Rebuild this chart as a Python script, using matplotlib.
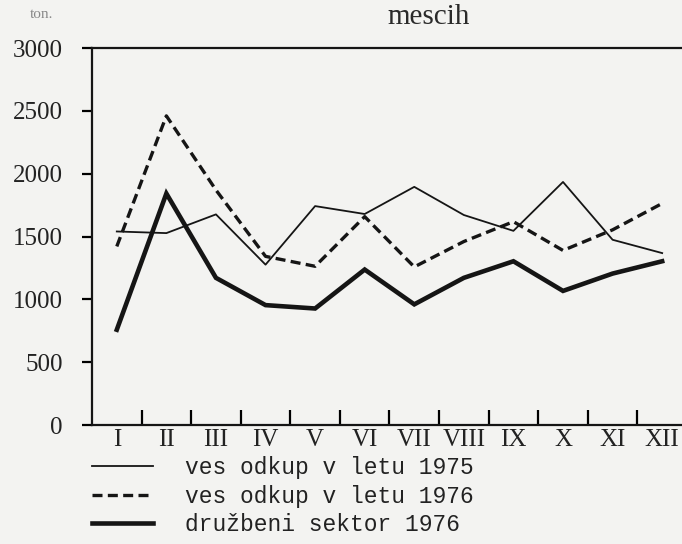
import matplotlib
matplotlib.use("Agg")
import matplotlib.pyplot as plt

months = ["I", "II", "III", "IV", "V", "VI", "VII", "VIII", "IX", "X", "XI", "XII"]
odkup_1975 = [1540, 1527, 1676, 1276, 1742, 1679, 1895, 1671, 1545, 1934, 1474, 1368]
odkup_1976 = [1421, 2460, 1870, 1342, 1263, 1658, 1258, 1460, 1618, 1389, 1553, 1763]
druzbeni_1976 = [758, 1842, 1171, 954, 927, 1237, 960, 1171, 1303, 1067, 1205, 1303]
labels = ["ves odkup v letu 1975", "ves odkup v letu 1976", "družbeni sektor 1976"]
yticks = [0, 500, 1000, 1500, 2000, 2500, 3000]
ytick_labels = ["0", "500", "1000", "1500", "2000", "2500", "3000"]

bg = "#f3f3f1"
ink = "#151515"
fig = plt.figure(figsize=(6.82, 5.44), dpi=100, facecolor=bg)
ax = fig.add_axes([92/682, 1-425/544, 1-92/682, (425-48)/544], facecolor=bg)

x = list(range(1, 13))
l1, = ax.plot(x, odkup_1975, color=ink, lw=1.3)
l2, = ax.plot(x, odkup_1976, color=ink, lw=2.4, dashes=(3.0, 1.6))
l3, = ax.plot(x, druzbeni_1976, color=ink, lw=3.3, solid_joinstyle="miter")

ax.set_xlim(0.5, 12.4)
ax.set_ylim(0, 3000)
ax.spines["right"].set_visible(False)
for s in ["left", "bottom", "top"]:
    ax.spines[s].set_linewidth(1.6)
    ax.spines[s].set_color(ink)

serif = "Liberation Serif"
ax.set_yticks(yticks)
ax.set_yticklabels(ytick_labels, fontfamily=serif, fontsize=18, color="#222222")
ax.tick_params(axis="y", direction="out", length=7, width=1.6, pad=14)

ax.set_xticks([i + 0.5 for i in range(1, 12)])
ax.set_xticklabels([])
ax.set_xticks(x, minor=True)
ax.set_xticklabels(months, minor=True, fontfamily=serif, fontsize=18, color="#222222")
ax.tick_params(axis="x", which="major", direction="in", length=11, width=1.6)
ax.tick_params(axis="x", which="minor", length=0, pad=3)

fig.text(429/682, 1-17/544, "mescih", ha="center", va="center",
         fontfamily=serif, fontsize=21, color="#2a2a2a")
fig.text(41/682, 1-15/544, "ton.", ha="center", va="center",
         fontfamily=serif, fontsize=11, color="#888888")

fig.legend([l1, l2, l3], labels, loc="upper left",
           bbox_to_anchor=(83/682, 1-447/544), frameon=False,
           prop={"family": "Liberation Mono", "size": 16.5},
           handlelength=2.66, handletextpad=1.4, labelspacing=0.24,
           borderaxespad=0, labelcolor="#222222")

fig.savefig("out.png", dpi=100, facecolor=bg)
